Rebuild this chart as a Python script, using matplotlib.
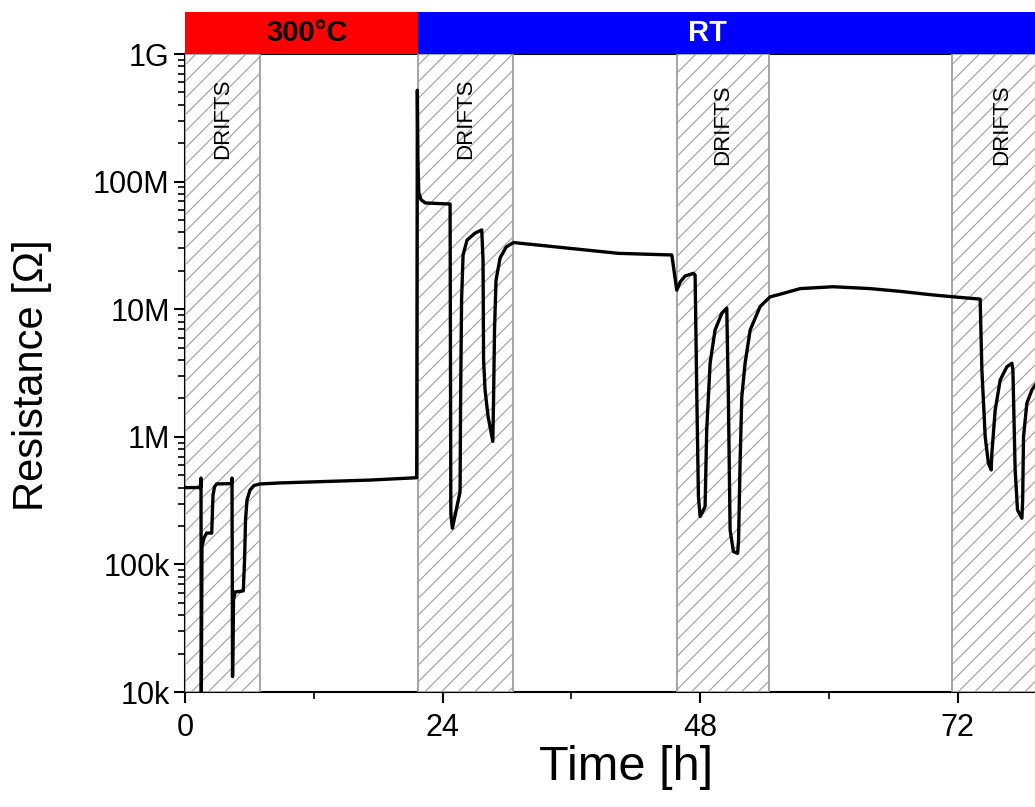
import matplotlib
matplotlib.use("Agg")
import matplotlib.pyplot as plt
from matplotlib.patches import Rectangle
from matplotlib.ticker import FixedLocator, LogLocator, NullFormatter
import numpy as np

plt.rcParams["font.family"] = ["Liberation Sans", "DejaVu Sans"]
plt.rcParams["hatch.linewidth"] = 0.8

# resistance trace
time_h = [
    0.00, 1.46, 1.49, 1.52, 1.58, 1.77, 2.02, 2.49, 2.56, 2.61, 2.75, 2.95,
    4.35, 4.38, 4.43, 4.52, 4.66, 5.43, 5.55, 5.64, 5.78, 6.06, 6.43, 6.99,
    8.85, 17.24, 21.59,
    21.65, 21.70, 21.78, 22.00, 22.40, 24.70, 24.77, 24.91, 25.63, 25.68,
    25.77, 25.91, 26.28, 27.03, 27.65, 27.77, 27.82, 27.96, 28.24, 28.68,
    28.75, 28.84, 28.98, 29.36, 29.92, 30.60,
    40.38, 45.36, 45.82, 46.13, 46.60, 47.37, 47.53, 47.69, 47.84, 48.00,
    48.46, 48.61, 48.93, 49.39, 50.02, 50.48, 50.63, 50.79, 51.10, 51.49,
    51.58, 51.72, 51.88, 52.19, 52.66, 53.59, 54.52,
    55.45, 57.32, 60.39, 63.84, 66.64, 69.43, 71.60, 74.09,
    74.25, 74.56, 74.86, 75.12, 75.18, 75.49, 75.96, 76.58, 77.05, 77.14,
    77.35, 77.57, 77.98, 78.05, 78.13, 78.44, 78.91, 79.22, 79.68,
]
resistance_ohm = [
    4.0e5, 4.0e5, 4.75e5, 9.0e3, 1.38e5, 1.61e5, 1.76e5, 1.76e5, 2.67e5, 3.5e5, 4.05e5, 4.27e5,
    4.30e5, 4.75e5, 1.32e4, 5.26e4, 6.08e4, 6.2e4, 1.08e5, 2.23e5, 3.2e5, 3.83e5, 4.15e5, 4.27e5,
    4.35e5, 4.58e5, 4.78e5,
    5.2e8, 1.5e8, 8.2e7, 7.2e7, 6.8e7, 6.67e7, 2.5e5, 1.92e5, 3.7e5, 1.94e6,
    1.18e7, 2.66e7, 3.48e7, 3.95e7, 4.18e7, 2.43e7, 4.0e6, 2.33e6, 1.44e6, 9.2e5,
    1.94e6, 6.87e6, 1.69e7, 2.52e7, 3.07e7, 3.33e7,
    2.74e7, 2.66e7, 1.41e7, 1.63e7, 1.82e7, 1.91e7, 1.85e7, 2.06e6, 3.4e5, 2.37e5,
    2.84e5, 1.13e6, 3.79e6, 6.87e6, 9.29e6, 1.02e7, 2.06e6, 1.86e5, 1.26e5, 1.22e5,
    1.55e5, 6.24e5, 2.06e6, 3.79e6, 6.87e6, 1.05e7, 1.25e7,
    1.31e7, 1.45e7, 1.50e7, 1.45e7, 1.38e7, 1.30e7, 1.25e7, 1.20e7,
    3.34e6, 1.0e6, 6.2e5, 5.5e5, 7.43e5, 1.62e6, 2.79e6, 3.54e6, 3.77e6, 3.34e6,
    5.5e5, 2.67e5, 2.3e5, 3.2e5, 1.0e6, 1.83e6, 2.33e6, 2.55e6, 2.79e6,
]

drift_start = [0.0, 21.7, 45.8, 71.5]
drift_end = [7.0, 30.6, 54.4, 80.7]
drift_text_y = [3.1e8, 3.1e8, 2.8e8, 2.8e8]

phase_labels = ["300°C", "RT"]
phase_start = [0.0, 21.7]
phase_end = [21.7, 100.0]
phase_label_x = [11.4, 48.7]
phase_colors = ["#ff0000", "#0000ff"]
phase_text_colors = ["black", "white"]

x_ticks = [0, 24, 48, 72]
x_minor = [12, 36, 60, 84]
y_ticks = [1e4, 1e5, 1e6, 1e7, 1e8, 1e9]
y_ticklabels = ["10k", "100k", "1M", "10M", "100M", "1G"]

fig = plt.figure(figsize=(10.35, 8.07), dpi=100)
ax = fig.add_axes([185 / 1035, 115 / 807, 850 / 1035, 638 / 807])
bar = fig.add_axes([185 / 1035, 753 / 807, 850 / 1035, 42 / 807], sharex=ax)

ax.set_yscale("log")
ax.set_xlim(0, 79.2)
ax.set_ylim(1e4, 1e9)

for x0, x1, ty in zip(drift_start, drift_end, drift_text_y):
    ax.add_patch(Rectangle((x0, 1e4), x1 - x0, 1e9 - 1e4, facecolor="white",
                           edgecolor="0.62", hatch="//", linewidth=1.3, zorder=3))
    ax.text((x0 + x1) / 2, ty, "DRIFTS", rotation=90, ha="center", va="center",
            fontsize=16, zorder=4)

ax.plot(time_h, resistance_ohm, color="black", lw=2.4, zorder=5,
        solid_joinstyle="round", solid_capstyle="round")

ax.xaxis.set_major_locator(FixedLocator(x_ticks))
ax.xaxis.set_minor_locator(FixedLocator(x_minor))
ax.set_yticks(y_ticks)
ax.set_yticklabels(y_ticklabels)
ax.yaxis.set_minor_locator(LogLocator(base=10, subs=np.arange(2, 10)))
ax.yaxis.set_minor_formatter(NullFormatter())

ax.tick_params(which="major", direction="out", length=8, width=1.5, labelsize=22)
ax.tick_params(axis="x", which="major", pad=7)
ax.tick_params(axis="y", which="major", pad=3)
ax.tick_params(which="minor", direction="out", length=5, width=1.2)
ax.spines["right"].set_visible(False)
for s in ["left", "bottom", "top"]:
    ax.spines[s].set_linewidth(1.5)

ax.set_xlabel("Time [h]", fontsize=35)
ax.xaxis.set_label_coords(0.519, -0.083)
ax.set_ylabel("Resistance [Ω]", fontsize=30)
ax.yaxis.set_label_coords(-0.157, 0.497)

bar.set_ylim(0, 1)
for x0, x1, c, lab, lx, tc in zip(phase_start, phase_end, phase_colors,
                                 phase_labels, phase_label_x, phase_text_colors):
    bar.add_patch(Rectangle((x0, 0), x1 - x0, 1, facecolor=c, edgecolor="none"))
    bar.text(lx, 0.5, lab, ha="center", va="center", fontsize=21,
             fontweight="bold", color=tc)
bar.axis("off")

fig.savefig("out.png", dpi=100)
